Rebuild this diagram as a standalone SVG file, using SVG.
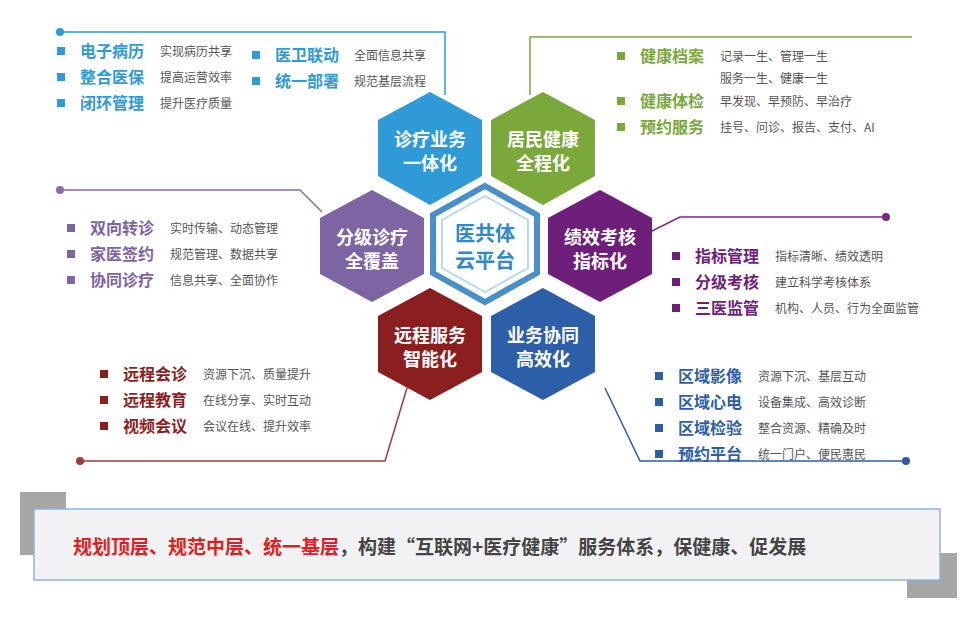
<svg xmlns="http://www.w3.org/2000/svg" width="974" height="624" viewBox="0 0 974 624">
<style>
text{font-family:"Noto Sans CJK SC","Liberation Sans",sans-serif}
.ht{fill:#fff;font-size:18px;font-weight:bold;text-anchor:middle}
.k{font-size:16px;font-weight:bold}
.d{font-size:12px;fill:#555}
.ln{fill:none;stroke-width:1.5}
</style>
<rect width="974" height="624" fill="#fff"/>
<g id="connectors">
<path class="ln" stroke="#2e9ad6" d="M60,32 H445 V95"/><circle cx="60" cy="32" r="4" fill="#2e9ad6"/>
<path class="ln" stroke="#7aa83a" d="M530,95 V37 H912"/>
<path class="ln" stroke="#8a6aa8" d="M60,190 H300 L322,212"/><circle cx="60" cy="190" r="4" fill="#8a6aa8"/>
<path class="ln" stroke="#7a2a80" d="M650,232 L680,217 H886"/><circle cx="886" cy="217" r="4" fill="#7a2a80"/>
<path class="ln" stroke="#a03a3a" d="M80,461 H385 L407,388"/><circle cx="80" cy="461" r="4" fill="#a03a3a"/>
<path class="ln" stroke="#2d5aa8" d="M605,388 L640,461 H906"/><circle cx="906" cy="461" r="4" fill="#2d5aa8"/>
</g>
<g id="hex1"><polygon points="430,92 482,120 482,176 430,205 378,176 378,120" fill="#2e9ad6"/><text class="ht" x="430" y="146">诊疗业务</text><text class="ht" x="430" y="170">一体化</text></g>
<g id="hex2"><polygon points="543,92 595,120 595,176 543,205 491,176 491,120" fill="#7aa83a"/><text class="ht" x="543" y="146">居民健康</text><text class="ht" x="543" y="170">全程化</text></g>
<g id="hex3"><polygon points="372,190 424,218 424,274 372,302 320,274 320,218" fill="#7d64a2"/><text class="ht" x="372" y="244">分级诊疗</text><text class="ht" x="372" y="268">全覆盖</text></g>
<g id="hexc"><polygon points="485,186 537,215 537,273 485,302 433,273 433,215" fill="#fff" stroke="#4a90c8" stroke-width="6"/><polygon points="485,196 528,220 528,268 485,292 442,268 442,220" fill="none" stroke="#b8d8ee" stroke-width="2"/>
<text x="485" y="241" font-size="20" font-weight="bold" fill="#2e8ac8" text-anchor="middle">医共体</text><text x="485" y="268" font-size="20" font-weight="bold" fill="#2e8ac8" text-anchor="middle">云平台</text></g>
<g id="hex4"><polygon points="600,190 652,218 652,274 600,302 548,274 548,218" fill="#6e1f7a"/><text class="ht" x="600" y="244">绩效考核</text><text class="ht" x="600" y="268">指标化</text></g>
<g id="hex5"><polygon points="430,288 482,316 482,372 430,400 378,372 378,316" fill="#8b1f1f"/><text class="ht" x="430" y="342">远程服务</text><text class="ht" x="430" y="366">智能化</text></g>
<g id="hex6"><polygon points="543,288 595,316 595,372 543,400 491,372 491,316" fill="#2d5fa8"/><text class="ht" x="543" y="342">业务协同</text><text class="ht" x="543" y="366">高效化</text></g>
<g id="list1" fill="#2e9ad6">
<rect x="57" y="47" width="8" height="8"/><text class="k" x="80" y="57">电子病历</text><text class="d" x="160" y="56">实现病历共享</text>
<rect x="57" y="73" width="8" height="8"/><text class="k" x="80" y="83">整合医保</text><text class="d" x="160" y="82">提高运营效率</text>
<rect x="57" y="99" width="8" height="8"/><text class="k" x="80" y="109">闭环管理</text><text class="d" x="160" y="108">提升医疗质量</text>
<rect x="252" y="51" width="8" height="8"/><text class="k" x="275" y="61">医卫联动</text><text class="d" x="354" y="60">全面信息共享</text>
<rect x="252" y="77" width="8" height="8"/><text class="k" x="275" y="87">统一部署</text><text class="d" x="354" y="86">规范基层流程</text>
</g>
<g id="list2" fill="#7aa83a">
<rect x="617" y="52" width="8" height="8"/><text class="k" x="640" y="62">健康档案</text><text class="d" x="720" y="61">记录一生、管理一生</text><text class="d" x="720" y="83">服务一生、健康一生</text>
<rect x="617" y="97" width="8" height="8"/><text class="k" x="640" y="107">健康体检</text><text class="d" x="720" y="106">早发现、早预防、早治疗</text>
<rect x="617" y="123" width="8" height="8"/><text class="k" x="640" y="133">预约服务</text><text class="d" x="720" y="132">挂号、问诊、报告、支付、AI</text>
</g>
<g id="list3" fill="#7d64a2">
<rect x="67" y="224" width="8" height="8"/><text class="k" x="90" y="234">双向转诊</text><text class="d" x="170" y="233">实时传输、动态管理</text>
<rect x="67" y="250" width="8" height="8"/><text class="k" x="90" y="260">家医签约</text><text class="d" x="170" y="259">规范管理、数据共享</text>
<rect x="67" y="276" width="8" height="8"/><text class="k" x="90" y="286">协同诊疗</text><text class="d" x="170" y="285">信息共享、全面协作</text>
</g>
<g id="list4" fill="#6e1f7a">
<rect x="672" y="252" width="8" height="8"/><text class="k" x="695" y="262">指标管理</text><text class="d" x="775" y="261">指标清晰、绩效透明</text>
<rect x="672" y="278" width="8" height="8"/><text class="k" x="695" y="288">分级考核</text><text class="d" x="775" y="287">建立科学考核体系</text>
<rect x="672" y="304" width="8" height="8"/><text class="k" x="695" y="314">三医监管</text><text class="d" x="775" y="313">机构、人员、行为全面监管</text>
</g>
<g id="list5" fill="#8b1f1f">
<rect x="100" y="370" width="8" height="8"/><text class="k" x="123" y="380">远程会诊</text><text class="d" x="203" y="379">资源下沉、质量提升</text>
<rect x="100" y="396" width="8" height="8"/><text class="k" x="123" y="406">远程教育</text><text class="d" x="203" y="405">在线分享、实时互动</text>
<rect x="100" y="422" width="8" height="8"/><text class="k" x="123" y="432">视频会议</text><text class="d" x="203" y="431">会议在线、提升效率</text>
</g>
<g id="list6" fill="#2d5fa8">
<rect x="655" y="372" width="8" height="8"/><text class="k" x="678" y="382">区域影像</text><text class="d" x="758" y="381">资源下沉、基层互动</text>
<rect x="655" y="398" width="8" height="8"/><text class="k" x="678" y="408">区域心电</text><text class="d" x="758" y="407">设备集成、高效诊断</text>
<rect x="655" y="424" width="8" height="8"/><text class="k" x="678" y="434">区域检验</text><text class="d" x="758" y="433">整合资源、精确及时</text>
<rect x="655" y="450" width="8" height="8"/><text class="k" x="678" y="460">预约平台</text><text class="d" x="758" y="459">统一门户、便民惠民</text>
</g>
<g id="banner">
<rect x="20" y="492" width="46" height="63" fill="#a6a6a6"/>
<rect x="907" y="553" width="50" height="45" fill="#a6a6a6"/>
<rect x="34" y="509" width="906" height="71" fill="#f2f2f4" stroke="#8fb4dc" stroke-width="1.5"/>
<text x="73" y="554" font-size="19" font-weight="bold"><tspan fill="#e02020">规划顶层、规范中层、统一基层</tspan><tspan fill="#444">，构建“互联网+医疗健康”服务体系，保健康、促发展</tspan></text>
</g>
</svg>
